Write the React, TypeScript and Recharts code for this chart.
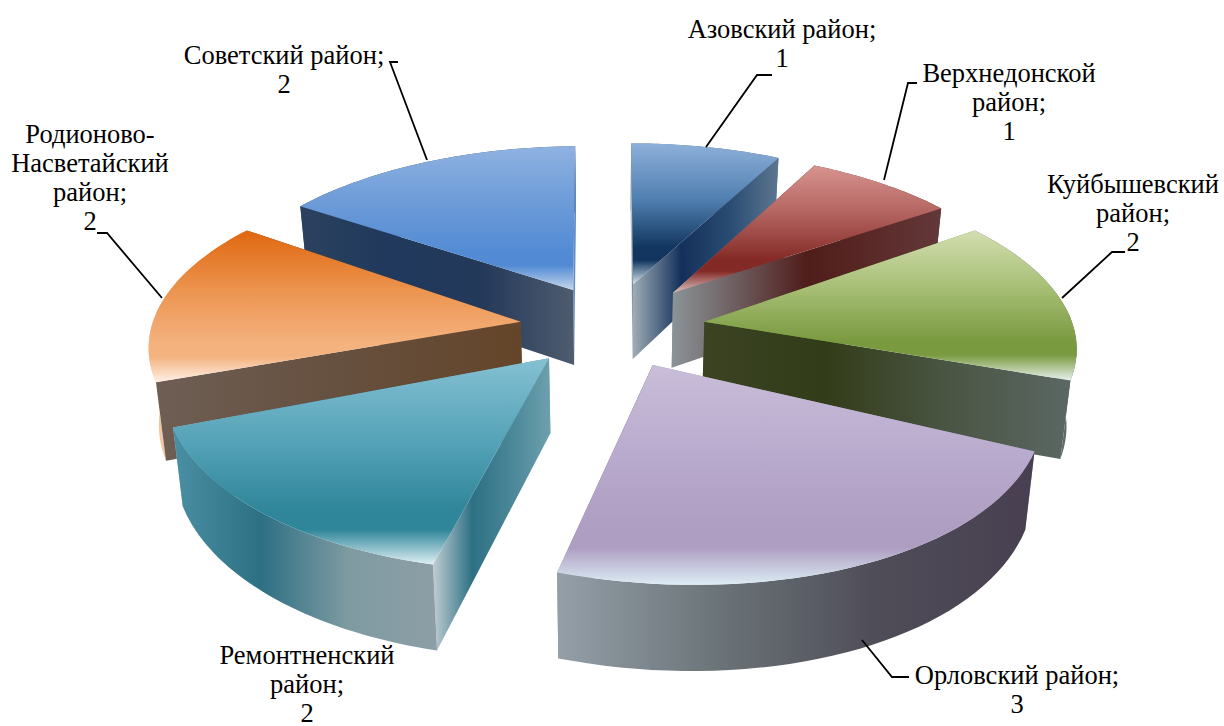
// 3D exploded pie, districts of Rostov oblast
import { PieChart, Pie } from "recharts";

const districts = [
  "Родионово-Насветайский район",
  "Советский район",
  "Азовский район",
  "Верхнедонской район",
  "Куйбышевский район",
  "Орловский район",
  "Ремонтненский район",
];
const counts = [2, 2, 1, 1, 2, 3, 2];
const chartData = districts.map((name, i) => ({ name, value: counts[i] }));

// top face: light, mid, base, rim
const TOP_COLORS = [
  ["#e0670f", "#ec9450", "#f4b27e", "#fdf0e6"],
  ["#8fb2e0", "#6c9bd8", "#528bd4", "#c3d6ec"],
  ["#8eb0da", "#4f7fb0", "#12365f", "#d6e4ec"],
  ["#d89490", "#b0605c", "#842a26", "#d8c0c0"],
  ["#d3deb0", "#a4bd72", "#7a9a40", "#e6f0ec"],
  ["#c9bdd9", "#b9abcd", "#ae9ec2", "#dcecf4"],
  ["#85c0d2", "#55a3b8", "#2f8599", "#dff0f5"],
];
// walls: [start wall, end wall, outer wall], each a list of left-to-right stops
const WALL_COLORS = [
  [["#6e5e54", "#66503f", "#644529"], ["#6a4a30", "#6a4a30"], ["#f0c8a5", "#f0c8a5"]],
  [["#2b415e", "#20395c", "#24395a", "#4e5c6e"], ["#6f93c0", "#5685c8"], ["#3a4f6c", "#4f5f75"]],
  [["#7d8e9f", "#c8d2dc", "#3c5a78"], ["#a0aeb6", "#14305a", "#2a4c72", "#5c7690"], ["#5c7690", "#5c7690"]],
  [["#908c8c", "#6e6e6e", "#58201e"], ["#8b9498", "#6c5a5c", "#4f1d1a", "#5a2a28", "#63383a"], ["#63302e", "#63302e"]],
  [["#6e8a3a", "#6e8a3a"], ["#3b4323", "#333c18", "#4a5544", "#5b6763"], ["#59686a", "#5f6c6e"]],
  [["#9a90aa", "#9a90aa"], ["#8f9da6", "#6c7a7e", "#555a63", "#4a4352"], ["#949fa8", "#6b7478", "#4f4d58", "#483f50"]],
  [["#c0cdd2", "#2d7084", "#4a8798", "#6da0ad"], ["#c0cdd2", "#2d7084", "#4a8798", "#6da0ad"], ["#4a8fa3", "#2d7084", "#7f9ba2", "#8d9ea6"]],
];

// per slice fit of the picture's perspective: 2x2 matrix, then apex nudge
const SLICE_FIT = [
  [0.997, -0.074, 0.007, 0.919, -1, 0],
  [0.972, -0.012, -0.008, 0.883, 3, 1],
  [0.96, 0.012, 0, 0.865, -2, -1],
  [0.967, 0.047, 0.002, 0.873, -1, -2],
  [0.995, 0.105, -0.01, 0.909, 0, 0],
  [1.049, 0.049, 0.043, 1.036, -3, 0],
  [1.031, -0.059, -0.001, 1.009, -3, -1],
];

// label text, anchor and leader line for each slice
const LABEL_LINES = [
  ["Родионово-", "Насветайский", "район;", "2"],
  ["Советский район;", "2"],
  ["Азовский район;", "1"],
  ["Верхнедонской", "район;", "1"],
  ["Куйбышевский", "район;", "2"],
  ["Орловский район;", "3"],
  ["Ремонтненский", "район;", "2"],
];
const LABEL_POS = [
  [90, 143],
  [284, 64],
  [782, 38],
  [1009, 82],
  [1133, 193],
  [1017, 684],
  [307, 664],
];
const LEADERS = [
  "97,233 107,233 162,298",
  "398,62 390,62 427,160",
  "772,75 757,75 706,147",
  "917,83 908,83 884,180",
  "1125,252 1112,252 1062,298",
  "909,677 892,677 862,640",
  "",
];

const DEPTH = 75;
const TILT = 0.5;
const PERSPECTIVE = 0.13;
const CONVERGE = 0.022;
const EXPLODE_X = 92;
const EXPLODE_Y = 43;
const FAR_WALL_SLICE = 1; // Советский: its wall sits behind the neighbouring slice

const rad = (deg: number) => (deg * Math.PI) / 180;

function Slice(props: any) {
  const { cx, cy, outerRadius, startAngle, endAngle, index, pass } = props;
  const i = index as number;
  const [ma, mb, mc, md, nx, ny] = SLICE_FIT[i];
  // recharts angles are counter-clockwise from 3 o'clock
  const mid = rad((startAngle + endAngle) / 2);
  const ox = cx + EXPLODE_X * Math.cos(mid) + nx;
  const oy = cy - EXPLODE_Y * Math.sin(mid) + ny;

  const project = (deg: number, r: number, drop: number) => {
    const wx = r * Math.cos(rad(deg));
    const wy = r * Math.sin(rad(deg));
    const p = 1 / (1 + PERSPECTIVE * wy);
    const dx = outerRadius * wx * p;
    const dy = -outerRadius * TILT * wy * p;
    const x = ox + ma * dx + mb * dy;
    // verticals lean in towards the middle as they go down
    const lean = drop > 0 ? CONVERGE * (x - cx) : 0;
    return [x - lean, oy + mc * dx + md * dy + drop * p];
  };

  const rim: number[][] = [];
  const rimLow: number[][] = [];
  const steps = 40;
  for (let s = 0; s <= steps; s++) {
    const a = startAngle + ((endAngle - startAngle) * s) / steps;
    rim.push(project(a, 1, 0));
    rimLow.push(project(a, 1, DEPTH));
  }
  const apex = project(0, 0, 0);
  const apexLow = project(0, 0, DEPTH);
  const toPath = (pts: number[][]) =>
    "M" + pts.map((q) => `${q[0].toFixed(1)},${q[1].toFixed(1)}`).join("L") + "Z";

  const walls = [
    { pts: [apex, rim[0], rimLow[0], apexLow], id: "start" },
    { pts: [rim[steps], apex, apexLow, rimLow[steps]], id: "end" },
    { pts: [...rim, ...[...rimLow].reverse()], id: "outer" },
  ];
  // painter's order, far walls first
  const sorted = walls
    .map((w, k) => ({ ...w, k, y: w.pts.reduce((t, q) => t + q[1], 0) / w.pts.length }))
    .sort((a, b) => a.y - b.y);

  if (pass === "top") {
    const tops = TOP_COLORS[i];
    return (
      <g>
        <defs>
          <linearGradient id={`top${i}`} x1="0" y1="0" x2="0" y2="1">
            <stop offset="0" stopColor={tops[0]} />
            <stop offset="0.4" stopColor={tops[1]} />
            <stop offset="0.74" stopColor={tops[2]} />
            <stop offset="0.83" stopColor={tops[2]} />
            <stop offset="1" stopColor={tops[3]} />
          </linearGradient>
        </defs>
        <path d={toPath([apex, ...rim])} fill={`url(#top${i})`} />
      </g>
    );
  }

  const isFar = i === FAR_WALL_SLICE;
  if ((pass === "farWalls") !== isFar) return <g />;
  return (
    <g>
      <defs>
        {WALL_COLORS[i].map((stops, k) => (
          <linearGradient key={k} id={`wall${i}-${k}`} x1="0" y1="0" x2="1" y2="0">
            {stops.map((c, n) => (
              <stop key={n} offset={n / Math.max(stops.length - 1, 1)} stopColor={c} />
            ))}
          </linearGradient>
        ))}
      </defs>
      {sorted.map((w) => (
        <path key={w.id} d={toPath(w.pts)} fill={`url(#wall${i}-${w.k})`} />
      ))}
    </g>
  );
}

function renderLabel(props: any) {
  const i = props.index as number;
  const [x, y] = LABEL_POS[i];
  return (
    <g key={i}>
      {LEADERS[i] && <polyline points={LEADERS[i]} fill="none" stroke="#000" strokeWidth={1.8} />}
      <text x={x} y={y} textAnchor="middle" fontFamily="Liberation Serif" fontSize={26.5} fill="#000">
        {LABEL_LINES[i].map((line, n) => (
          <tspan key={n} x={x} dy={n === 0 ? 0 : 29}>
            {line}
          </tspan>
        ))}
      </text>
    </g>
  );
}

const pieProps = {
  data: chartData,
  dataKey: "value",
  nameKey: "name",
  cx: 613,
  cy: 327,
  innerRadius: 0,
  outerRadius: 368,
  startAngle: 200.77,
  endAngle: -159.23,
  stroke: "none",
  labelLine: false,
  isAnimationActive: false,
};

export default function App() {
  return (
    <div style={{ position: "absolute", left: 0, top: 0, width: 1224, height: 726, background: "#fff" }}>
      <PieChart width={1224} height={726} margin={{ top: 0, right: 0, bottom: 0, left: 0 }}>
        <Pie {...pieProps} shape={(p: any) => <Slice {...p} pass="farWalls" />} />
        <Pie {...pieProps} shape={(p: any) => <Slice {...p} pass="walls" />} />
        <Pie {...pieProps} shape={(p: any) => <Slice {...p} pass="top" />} label={renderLabel} />
      </PieChart>
    </div>
  );
}
